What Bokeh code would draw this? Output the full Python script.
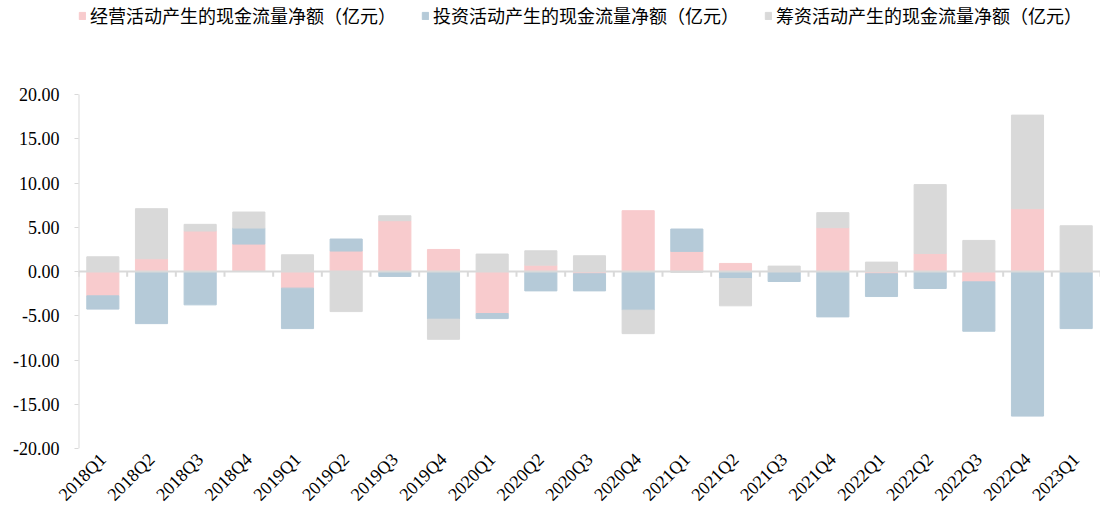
import numpy as np
from math import pi
from bokeh.plotting import figure
from bokeh.models import (ColumnDataSource, Range1d, FixedTicker, NumeralTickFormatter,
                          Span, Legend, LegendItem)
from bokeh.embed import file_html
from bokeh.resources import INLINE

categories = ["2018Q1", "2018Q2", "2018Q3", "2018Q4", "2019Q1", "2019Q2", "2019Q3",
              "2019Q4", "2020Q1", "2020Q2", "2020Q3", "2020Q4", "2021Q1", "2021Q2",
              "2021Q3", "2021Q4", "2022Q1", "2022Q2", "2022Q3", "2022Q4", "2023Q1"]
operating = [-2.75, 1.44, 4.57, 3.10, -1.88, 2.31, 5.74, 2.49, -4.75, 0.72, -0.25,
             6.87, 2.27, 0.91, 0.00, 4.95, -0.25, 2.04, -1.17, 7.10, 0.03]
investing = [-1.50, -5.89, -3.77, 1.81, -4.57, 1.36, -0.56, -5.39, -0.57, -2.19, -1.94,
             -4.37, 2.53, -0.79, -1.13, -5.13, -2.58, -1.92, -5.58, -16.34, -6.45]
financing = [1.66, 5.66, 0.76, 1.81, 1.89, -4.53, 0.56, -2.27, 1.97, 1.62, 1.78,
             -2.65, -0.10, -3.09, 0.61, 1.70, 1.06, 7.78, 3.51, 10.57, 5.14]
series_names = ["经营活动产生的现金流量净额（亿元）", "投资活动产生的现金流量净额（亿元）",
                "筹资活动产生的现金流量净额（亿元）"]
colors = ["#F8CBCD", "#B5CAD8", "#D9D9D9"]
y_ticks = [-20, -15, -10, -5, 0, 5, 10, 15, 20]

n = len(categories)
xs = np.arange(n) + 0.5

# layout (pixels): plot area from top of canvas, value axis spans 94px..448px
Y_MIN, Y_MAX = y_ticks[0], y_ticks[-1]
PX_TOP_AXIS, PX_BOTTOM = 94, 448
units_per_px = (Y_MAX - Y_MIN) / (PX_BOTTOM - PX_TOP_AXIS)
y_end = Y_MAX + PX_TOP_AXIS * units_per_px

p = figure(width=1100, height=515, output_backend="svg", toolbar_location=None,
           x_range=Range1d(0, n), y_range=Range1d(Y_MIN, y_end),
           min_border_left=78, min_border_right=0, min_border_top=0, min_border_bottom=67)
p.outline_line_color = None
p.xgrid.visible = False
p.ygrid.visible = False
p.background_fill_color = "white"

pos_base = np.zeros(n)
neg_base = np.zeros(n)
renderers = []
for vals, col in zip([operating, investing, financing], colors):
    v = np.array(vals, dtype=float)
    bottom = np.where(v >= 0, pos_base, neg_base)
    top = bottom + v
    pos_base = np.where(v >= 0, top, pos_base)
    neg_base = np.where(v < 0, top, neg_base)
    src = ColumnDataSource(dict(x=xs, bottom=bottom, top=top))
    r = p.vbar(x="x", bottom="bottom", top="top", width=0.66, source=src,
               fill_color=col, line_color=col, line_width=1)
    renderers.append(r)

# value-axis line only over the tick span
p.segment(x0=[0], y0=[Y_MIN], x1=[0], y1=[Y_MAX], line_color="#D9D9D9", line_width=2)

# zero line with category separator ticks
p.add_layout(Span(location=0, dimension="width", line_color="#D9D9D9", line_width=2))
bx = np.arange(n + 1).astype(float)
p.segment(x0=bx, y0=np.zeros(n + 1), x1=bx, y1=np.full(n + 1, -0.6),
          line_color="#D9D9D9", line_width=2)

# y axis
p.yaxis.ticker = FixedTicker(ticks=y_ticks)
p.yaxis.formatter = NumeralTickFormatter(format="0.00")
p.yaxis.axis_line_color = None
p.yaxis.major_tick_line_color = "#D9D9D9"
p.yaxis.major_tick_in = 0
p.yaxis.major_tick_out = 4
p.yaxis.minor_tick_line_color = None
p.yaxis.major_label_text_font = "Liberation Serif"
p.yaxis.major_label_text_font_size = "18px"
p.yaxis.major_label_text_color = "black"
p.yaxis.major_label_standoff = 15

# x axis (labels only)
p.xaxis.ticker = FixedTicker(ticks=list(xs))
p.xaxis.major_label_overrides = {float(x): c for x, c in zip(xs, categories)}
p.xaxis.axis_line_color = None
p.xaxis.major_tick_line_color = None
p.xaxis.minor_tick_line_color = None
p.xaxis.major_label_orientation = pi / 4
p.xaxis.major_label_text_font = "Liberation Serif"
p.xaxis.major_label_text_font_size = "18px"
p.xaxis.major_label_text_line_height = 0.8
p.xaxis.major_label_text_color = "black"
p.xaxis.major_label_standoff = 2

legend = Legend(items=[LegendItem(label=nm, renderers=[r]) for nm, r in zip(series_names, renderers)],
                orientation="horizontal", location=(0, 420),
                padding=0, margin=0, spacing=25,
                glyph_width=8, glyph_height=9, label_standoff=4, label_height=20,
                label_text_font="Noto Sans CJK SC", label_text_font_size="18px",
                label_text_color="black", border_line_color=None,
                background_fill_alpha=0)
p.add_layout(legend, "center")

open("out.html", "w").write(file_html(p, INLINE))
